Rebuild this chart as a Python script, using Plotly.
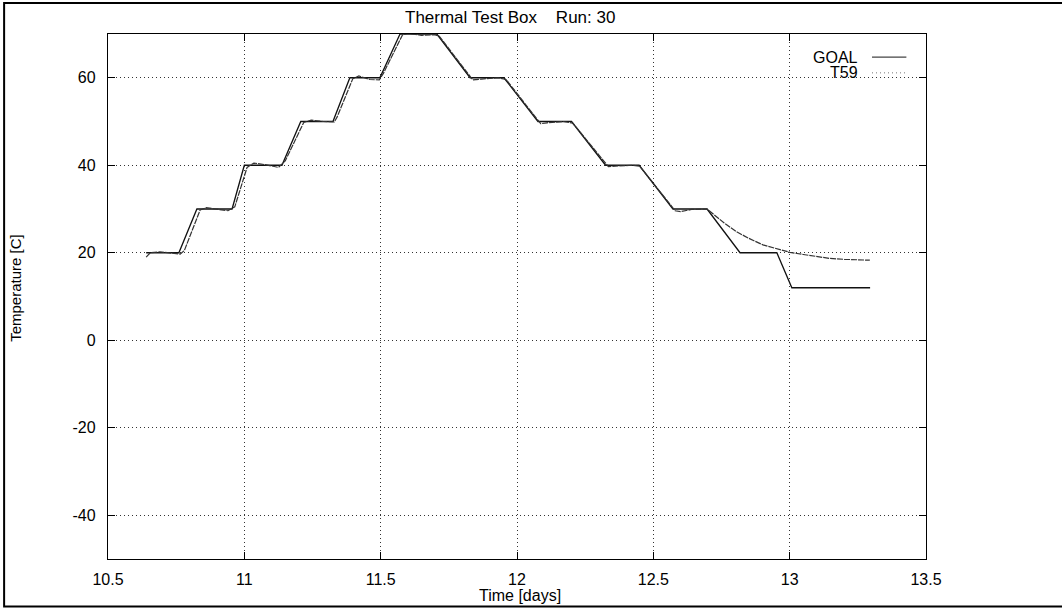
import plotly.graph_objects as go

# GOAL set point profile (days, deg C)
goal_t = [10.640, 10.760, 10.826, 10.955, 11.000, 11.138, 11.207, 11.325,
          11.387, 11.497, 11.571, 11.706, 11.828, 11.952, 12.077, 12.200,
          12.325, 12.448, 12.572, 12.697, 12.818, 12.953, 13.008, 13.295]
goal_v = [20, 20, 30, 30, 40, 40, 50, 50,
          60, 60, 70, 70, 60, 60, 50, 50,
          40, 40, 30, 30, 20, 20, 12, 12]

# measured T59
t59_t = [10.640, 10.655, 10.690, 10.730, 10.765, 10.780, 10.838, 10.860, 10.900, 10.940,
         10.965, 11.010, 11.035, 11.080, 11.125, 11.150, 11.218, 11.245, 11.290, 11.330,
         11.340, 11.398, 11.420, 11.460, 11.495, 11.510, 11.580, 11.600, 11.650, 11.700,
         11.715, 11.838, 11.870, 11.930, 11.960, 12.087, 12.110, 12.170, 12.205, 12.335,
         12.360, 12.420, 12.450, 12.580, 12.600, 12.640, 12.697, 12.730, 12.760, 12.805,
         12.850, 12.902, 12.950, 13.001, 13.050, 13.100, 13.148, 13.200, 13.250, 13.294]
t59_v = [19.0, 20.0, 20.2, 20.0, 19.7, 20.5, 29.8, 30.3, 30.0, 29.6,
         30.5, 39.5, 40.5, 40.1, 39.5, 41.0, 49.8, 50.3, 50.0, 49.9,
         51.0, 59.8, 60.4, 59.6, 59.5, 61.0, 69.8, 70.2, 69.7, 69.8,
         69.5, 59.5, 59.7, 60.0, 59.6, 49.5, 49.7, 50.0, 49.6, 39.7,
         39.8, 40.0, 39.8, 29.6, 29.4, 29.9, 30.0, 28.3, 26.8, 24.8,
         23.3, 21.8, 20.9, 20.1, 19.6, 19.1, 18.7, 18.5, 18.4, 18.3]

x_ticks = [10.5, 11, 11.5, 12, 12.5, 13, 13.5]
x_labels = ["10.5", "11", "11.5", "12", "12.5", "13", "13.5"]
y_ticks = [-40, -20, 0, 20, 40, 60]
y_labels = ["-40", "-20", "0", "20", "40", "60"]

FONT = "Liberation Sans, Arial, Helvetica, sans-serif"

fig = go.Figure()

fig.add_trace(go.Scatter(x=goal_t, y=goal_v, mode="lines", name="GOAL",
                         line=dict(color="#111111", width=1.3)))
fig.add_trace(go.Scatter(x=t59_t, y=t59_v, mode="lines", name="T59",
                         line=dict(color="#333333", width=1.2, dash="6px,1px")))

axis_common = dict(
    showline=True, linecolor="black", linewidth=1.3, mirror="ticks",
    ticks="inside", ticklen=7, tickcolor="black", tickwidth=1,
    showgrid=True, gridcolor="#333333", griddash="1px,3px", gridwidth=1,
    zeroline=False, tickfont=dict(family=FONT, size=16, color="black"),
)

fig.update_xaxes(range=[10.5, 13.5], tickvals=x_ticks, ticktext=x_labels,
                 ticklabelstandoff=6, **axis_common)
fig.update_yaxes(range=[-50, 70], tickvals=y_ticks, ticktext=y_labels,
                 ticklabelstandoff=8, **axis_common)

# gnuplot style legend: text on the left, sample on the right
legend_rows = [("GOAL", 0.956, dict(color="#444444", width=1.3)),
               ("T59", 0.926, dict(color="#777777", width=1, dash="1px,3px"))]
shapes = []
annotations = []
for label, yp, ln in legend_rows:
    annotations.append(dict(x=0.919, y=yp, xref="paper", yref="paper", text=label,
                            showarrow=False, xanchor="right", yanchor="middle",
                            font=dict(family=FONT, size=16, color="black")))
    shapes.append(dict(type="line", xref="paper", yref="paper",
                       x0=0.934, x1=0.976, y0=yp, y1=yp, line=ln))

# title and axis titles
annotations.append(dict(x=0.491, y=1.032, xref="paper", yref="paper",
                        text="Thermal Test Box    Run: 30", showarrow=False,
                        xanchor="center", yanchor="middle",
                        font=dict(family=FONT, size=17, color="black")))
annotations.append(dict(x=0.504, y=-0.07, xref="paper", yref="paper",
                        text="Time [days]", showarrow=False,
                        xanchor="center", yanchor="middle",
                        font=dict(family=FONT, size=16, color="black")))
annotations.append(dict(x=-0.114, y=0.516, xref="paper", yref="paper",
                        text="Temperature [C]", showarrow=False, textangle=-90,
                        xanchor="center", yanchor="middle",
                        font=dict(family=FONT, size=15, color="black")))

# outer frame of the picture
shapes.append(dict(type="rect", xref="paper", yref="paper",
                   x0=-0.127, x1=1.18, y0=-0.0905, y1=1.059,
                   line=dict(color="black", width=2)))

fig.update_layout(
    width=1062, height=609,
    margin=dict(l=108, r=136, t=34, b=50),
    paper_bgcolor="white", plot_bgcolor="white",
    showlegend=False,
    shapes=shapes, annotations=annotations,
    font=dict(family=FONT, color="black"),
)

# drop the default page margin so the figure sits at the window's corner
fig.write_html("out.html", config={"displayModeBar": False},
               post_script="document.body.style.margin='0';")
